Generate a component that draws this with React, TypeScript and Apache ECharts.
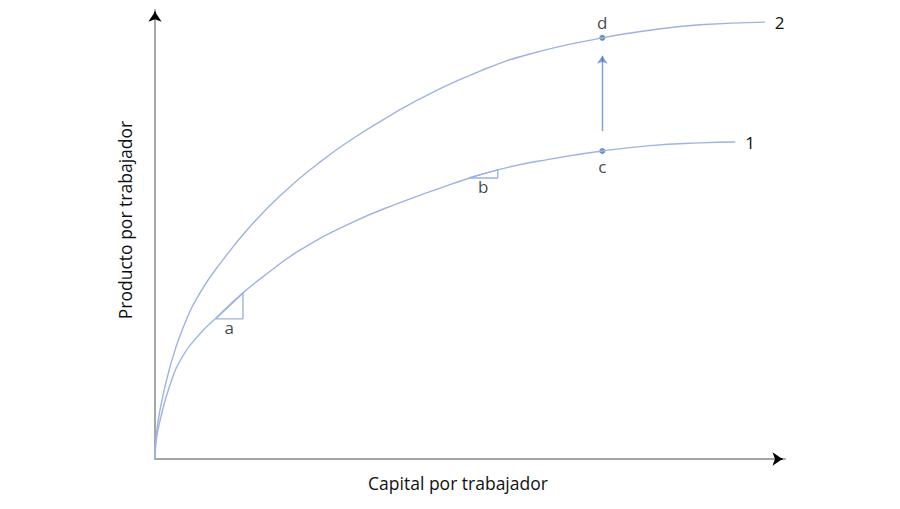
import React, { useEffect, useRef } from "react";
import * as echarts from "echarts";

// Curve 1 (lower production function)
const curve1X = [0, 0.15, 0.79, 2.38, 4.44, 7.14, 9.52, 13.97, 17.8, 23.0, 31.0, 38.9, 46.8, 54.4, 62.7, 71.0, 78.6, 86.5, 92.1];
const curve1Y = [0, 3.6, 8.5, 16.5, 23.0, 27.9, 31.2, 37.0, 41.3, 46.5, 52.5, 57.1, 61.1, 64.4, 66.8, 68.6, 69.8, 70.4, 70.6];
// Curve 2 (upper production function)
const curve2X = [0, 0.15, 0.79, 2.38, 4.44, 7.14, 10.6, 15.1, 20.3, 25.7, 31.0, 38.9, 43.7, 51.6, 59.5, 71.0, 78.6, 86.5, 96.8];
const curve2Y = [0, 4.6, 10.9, 20.5, 29.2, 37.0, 44.0, 51.8, 59.2, 65.6, 71.0, 77.8, 81.4, 86.4, 90.2, 93.8, 95.5, 96.7, 97.3];
const curveNames = ["1", "2"];

// Slope triangles a and b
const triA = [[9.6, 31.2], [13.97, 31.2], [13.97, 37.0]];
const triB = [[49.8, 62.6], [54.4, 62.6], [54.4, 64.4]];
const triNames = ["a", "b"];

// Points c and d
const pointNames = ["c", "d"];
const pointX = [71.0, 71.0];
const pointY = [68.6, 93.8];

// Shift arrow from c to d
const shiftArrow = [[71.0, 73.0], [71.0, 89.8]];

const axisTitles = ["Capital por trabajador", "Producto por trabajador"];

const FONT = "Open Sans";
const CURVE = "#9db3e2";
const POINT = "#4472c4";
const TEXT = "#111111";

export default function App() {
  const ref = useRef<HTMLDivElement>(null);
  useEffect(() => {
    const chart = echarts.init(ref.current!, null, { renderer: "svg" });
    const c1 = curve1X.map((x, i) => [x, curve1Y[i]]);
    const c2 = curve2X.map((x, i) => [x, curve2Y[i]]);
    const endLabel = (name: string) => ({
      show: true,
      formatter: name,
      distance: 10,
      color: TEXT,
      fontFamily: FONT,
      fontSize: 17,
    });
    const tri = (pts: number[][]) => [...pts, pts[0]];

    chart.setOption({
      animation: false,
      grid: { left: 155, right: 115, top: 10, bottom: 50 },
      xAxis: {
        type: "value",
        min: 0,
        max: 100,
        axisLine: { show: true, onZero: false, lineStyle: { color: "#a6a6a6", width: 2 } },
        axisTick: { show: false },
        axisLabel: { show: false },
        splitLine: { show: false },
      },
      yAxis: {
        type: "value",
        min: 0,
        max: 100,
        axisLine: { show: true, onZero: false, lineStyle: { color: "#a6a6a6", width: 2 } },
        axisTick: { show: false },
        axisLabel: { show: false },
        splitLine: { show: false },
      },
      graphic: [
        {
          type: "text",
          x: 458,
          y: 483,
          style: {
            text: axisTitles[0],
            fontFamily: FONT,
            fontSize: 17.5,
            fill: TEXT,
            align: "center",
            verticalAlign: "middle",
          },
        },
        {
          type: "text",
          x: 125,
          y: 220,
          rotation: Math.PI / 2,
          style: {
            text: axisTitles[1],
            fontFamily: FONT,
            fontSize: 17.5,
            fill: TEXT,
            align: "center",
            verticalAlign: "middle",
          },
        },
      ],
      series: [
        {
          type: "line",
          data: c1,
          smooth: true,
          showSymbol: false,
          symbol: "none",
          lineStyle: { color: CURVE, width: 1.4 },
          endLabel: endLabel(curveNames[0]),
          silent: true,
        },
        {
          type: "line",
          data: c2,
          smooth: true,
          showSymbol: false,
          symbol: "none",
          lineStyle: { color: CURVE, width: 1.4 },
          endLabel: endLabel(curveNames[1]),
          silent: true,
        },
        {
          type: "line",
          data: tri(triA),
          symbol: "none",
          lineStyle: { color: CURVE, width: 1.4 },
          silent: true,
        },
        {
          type: "line",
          data: tri(triB),
          symbol: "none",
          lineStyle: { color: CURVE, width: 1.4 },
          silent: true,
        },
        {
          type: "scatter",
          symbolSize: 0,
          silent: true,
          data: [
            { value: [(triA[0][0] + triA[1][0]) / 2, triA[0][1]], label: { formatter: triNames[0] } },
            { value: [(triB[0][0] + triB[1][0]) / 2, triB[0][1]], label: { formatter: triNames[1] } },
          ],
          label: {
            show: true,
            position: "bottom",
            distance: 0,
            color: TEXT,
            fontFamily: FONT,
            fontSize: 17,
          },
        },
        {
          type: "scatter",
          symbolSize: 6,
          itemStyle: { color: POINT },
          silent: true,
          data: [
            { value: [pointX[0], pointY[0]], label: { formatter: pointNames[0], position: "bottom" } },
            { value: [pointX[1], pointY[1]], label: { formatter: pointNames[1], position: "top" } },
          ],
          label: {
            show: true,
            distance: 4,
            color: TEXT,
            fontFamily: FONT,
            fontSize: 17,
          },
        },
        {
          type: "lines",
          coordinateSystem: "cartesian2d",
          silent: true,
          clip: false,
          symbol: ["none", "arrow"],
          symbolSize: 8,
          lineStyle: { color: POINT, width: 1.4, opacity: 0.7 },
          data: [{ coords: shiftArrow }],
        },
        {
          type: "lines",
          coordinateSystem: "cartesian2d",
          silent: true,
          clip: false,
          symbol: ["none", "arrow"],
          symbolSize: [8, 10],
          lineStyle: { color: "#000", width: 2, opacity: 1 },
          data: [
            { coords: [[98.8, 0], [99.6, 0]] },
            { coords: [[0, 98.6], [0, 99.6]] },
          ],
        },
      ],
    });
    return () => chart.dispose();
  }, []);
  return <div ref={ref} style={{ width: 900, height: 509, margin: -8 }} />;
}
